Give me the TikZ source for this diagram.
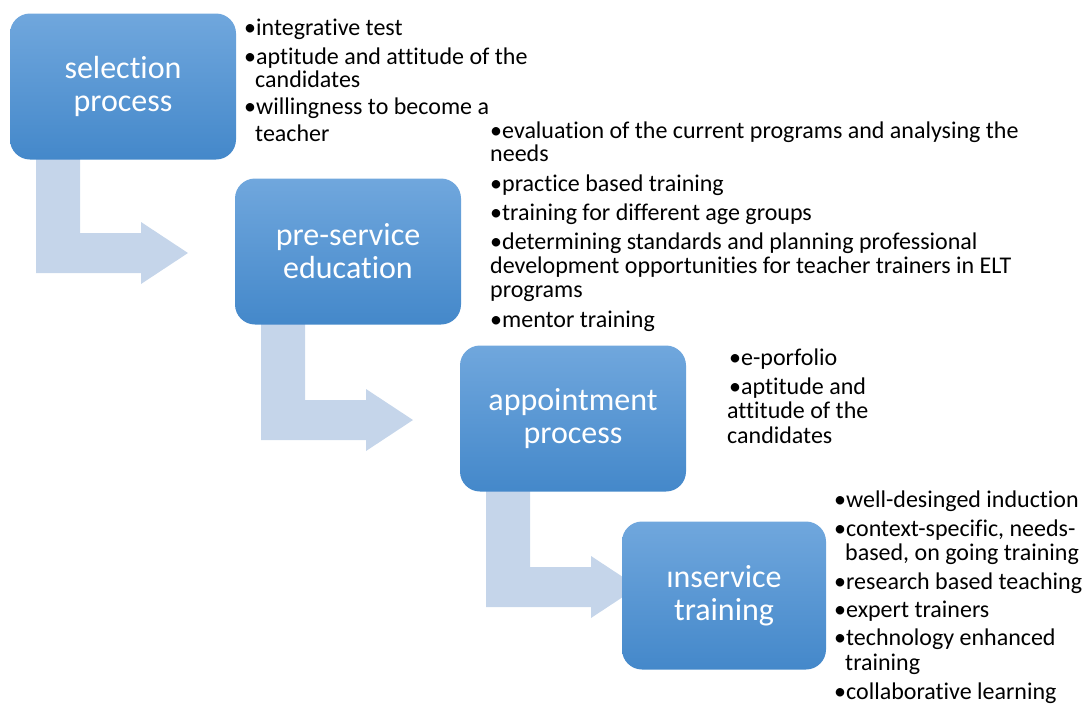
\documentclass[tikz,border=0pt]{standalone}
\usepackage{fontspec}
\setmainfont{Carlito}[Ligatures=NoCommon]
\definecolor{boxtop}{RGB}{112,167,221}
\definecolor{boxbot}{RGB}{68,136,202}
\definecolor{arrowc}{RGB}{197,213,234}
\begin{document}
\begin{tikzpicture}[x=1pt,y=-1pt,
  stagebox/.style={rounded corners=20pt, top color=boxtop, bottom color=boxbot, draw=none,
    text=white, font=\fontsize{32}{33}\selectfont, align=center, inner sep=0pt},
  ln/.style={anchor=base west, inner sep=0pt, font=\fontsize{24}{24}\selectfont, text=black},
  blockarrow/.style={fill=arrowc, draw=none}]
\useasboundingbox (0,0) rectangle (1084,704);
% bent arrows (behind boxes)
\foreach \dx/\dy in {0/0, 225/167, 450/334}{
  \fill[blockarrow, shift={(\dx,\dy)}] (36,150) -- (80,150) -- (80,233) -- (141,233) -- (141,222)
     -- (188,253) -- (141,284) -- (141,273) -- (36,273) -- cycle;
}
% boxes
\node[stagebox, minimum width=226, minimum height=146] (s1) at (123,86.5) {selection\\process};
\node[stagebox, minimum width=226, minimum height=146] (s2) at (348,251.5) {pre-service\\education};
\node[stagebox, minimum width=226, minimum height=146] (s3) at (573,418.5) {appointment\\process};
\node[stagebox, minimum width=204, minimum height=148] (s4) at (724,595.5) {ınservice\\training};
\begin{scope}[shift={(0,1.5)}]
% block 1
\node[ln] (a1) at (244,34) {•integrative test};
\node[ln] (a2) at (244,63) {•aptitude and attitude of the};
\node[ln] (a3) at (255,86) {candidates};
\node[ln] (a4) at (244,113) {•willingness to become a};
\node[ln] (a5) at (255,140) {teacher};
% block 2
\node[ln] (b1) at (490,137) {•evaluation of the current programs and analysing the};
\node[ln] (b2) at (490,160) {needs};
\node[ln] (b3) at (490,190) {•practice based training};
\node[ln] (b4) at (490,219) {•training for different age groups};
\node[ln] (b5) at (490,248) {•determining standards and planning professional};
\node[ln] (b6) at (490,272) {development opportunities for teacher trainers in ELT};
\node[ln] (b7) at (490,296) {programs};
\node[ln] (b8) at (490,326) {•mentor training};
% block 3
\node[ln] (c1) at (729,364) {•e-porfolio};
\node[ln] (c2) at (729,393) {•aptitude and};
\node[ln] (c3) at (727,417) {attitude of the};
\node[ln] (c4) at (727,442) {candidates};
% block 4
\node[ln] (d1) at (834,506) {•well-desinged induction};
\node[ln] (d2) at (834,535) {•context-specific, needs-};
\node[ln] (d3) at (845,559) {based, on going training};
\node[ln] (d4) at (834,588) {•research based teaching};
\node[ln] (d5) at (834,616) {•expert trainers};
\node[ln] (d6) at (834,644) {•technology enhanced};
\node[ln] (d7) at (845,669) {training};
\node[ln] (d8) at (834,698) {•collaborative learning};
\end{scope}
\end{tikzpicture}
\end{document}
